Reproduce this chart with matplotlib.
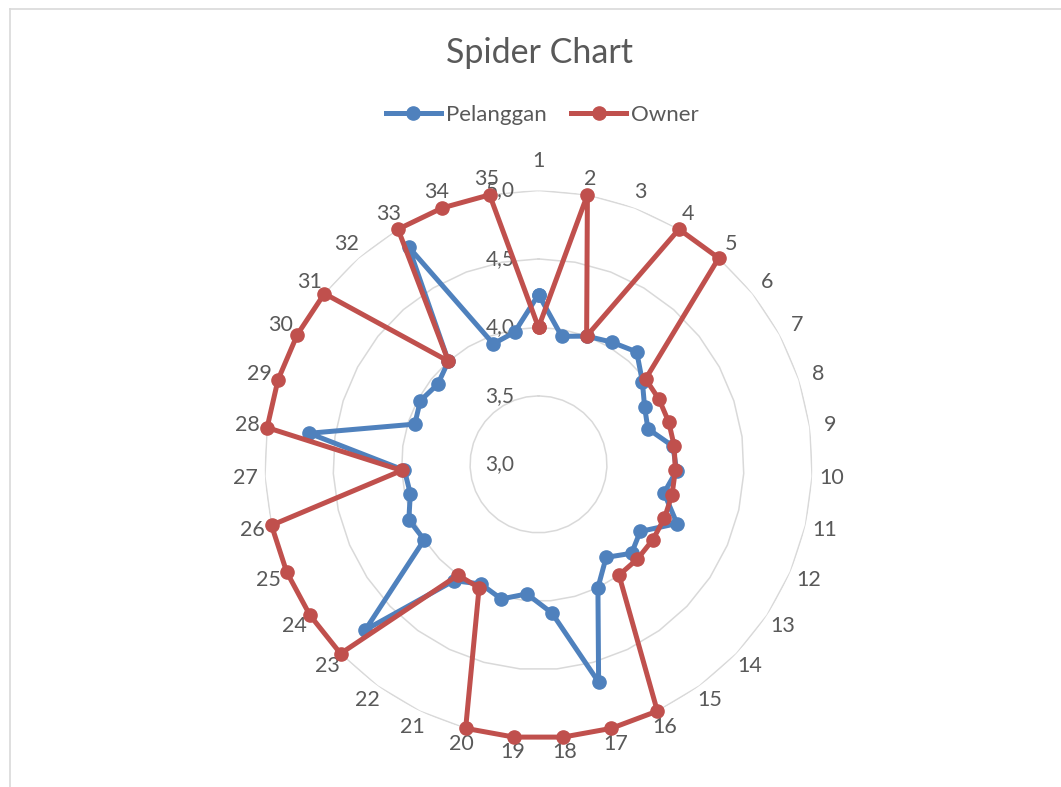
# Spider (radar) chart comparing customer and owner scores over 35 items
import numpy as np
import matplotlib.pyplot as plt
from matplotlib.lines import Line2D

# --- Data ---
categories = [str(i) for i in range(1, 36)]

pelanggan = [4.24, 3.95, 4.00, 4.04, 4.09, 3.97, 3.88, 3.84, 3.99, 4.01,
             3.94, 4.10, 3.89, 3.94, 3.84, 4.00, 4.65, 4.09, 3.95, 4.02,
             3.97, 4.05, 4.75, 4.00, 4.03, 3.96, 3.98, 4.69, 3.95, 3.98,
             3.94, 4.00, 4.85, 3.94, 3.98]

owner = [4, 5, 4, 5, 5, 4, 4, 4, 4, 4,
         4, 4, 4, 4, 4, 5, 5, 5, 5, 5,
         4, 4, 5, 5, 5, 5, 4, 5, 5, 5,
         5, 4, 5, 5, 5]

r_ticks = [3.0, 3.5, 4.0, 4.5, 5.0]
r_tick_labels = ["3,0", "3,5", "4,0", "4,5", "5,0"]

series_names = ["Pelanggan", "Owner"]
series_colors = ["#4F81BD", "#C0504D"]

TEXT_COLOR = "#595959"
GRID_COLOR = "#D9D9D9"
FONT = "Lato"
PX_PER_UNIT = 137.0  # pixels per value unit on the radial axis


def closed(values):
    # repeat the first point so the polygon closes
    return list(values) + [values[0]]


def draw_chart():
    fig = plt.figure(figsize=(10.61, 7.87), dpi=100)

    # light frame round the chart area (left and top edges are visible)
    fig.add_artist(Line2D([9.5 / 1061, 9.5 / 1061], [0, 1 - 8.5 / 787],
                          transform=fig.transFigure, color=GRID_COLOR, lw=1.2))
    fig.add_artist(Line2D([9.5 / 1061, 1], [1 - 8.5 / 787, 1 - 8.5 / 787],
                          transform=fig.transFigure, color=GRID_COLOR, lw=1.2))

    ax = fig.add_axes([0.2493, 0.062, 0.5165, 0.696], projection="polar")
    ax.set_theta_zero_location("N")
    ax.set_theta_direction(-1)
    ax.set_ylim(3, 5)

    n = len(categories)
    angles = np.linspace(0, 2 * np.pi, n, endpoint=False)
    angles_closed = closed(angles)

    # hide the default round grid, draw Excel-like polygon gridlines instead
    ax.grid(False)
    ax.spines["polar"].set_visible(False)
    ax.set_xticks([])
    ax.set_yticks([])
    for level in r_ticks[1:]:
        ax.plot(angles_closed, [level] * (n + 1), color=GRID_COLOR, lw=1.1, zorder=1)

    # radial value labels, left of the vertical axis
    for level, label in zip(r_ticks, r_tick_labels):
        ax.annotate(label, xy=(0, level), xytext=(-24, 0), textcoords="offset pixels",
                    ha="right", va="center", fontsize=15, color=TEXT_COLOR,
                    family=FONT, annotation_clip=False)

    # category labels round the outside
    for ang, cat in zip(angles, categories):
        r_px = 289 + 5 * abs(np.sin(ang))
        if cat == "1":
            r_px = 303  # Excel pushes the first label up above the value axis
        ax.text(ang, 3 + r_px / PX_PER_UNIT, cat, ha="center", va="center",
                fontsize=15.5, color=TEXT_COLOR, family=FONT, clip_on=False)

    # the two series
    handles = []
    for values, name, color in zip([pelanggan, owner], series_names, series_colors):
        line, = ax.plot(angles_closed, closed(values), color=color, lw=3.6,
                        marker="o", markersize=9.5, label=name, zorder=3,
                        clip_on=False)
        handles.append(line)

    fig.text(539 / 1061, 1 - 53 / 787, "Spider Chart", ha="center", va="center",
             fontsize=24.5, color=TEXT_COLOR, family=FONT)

    leg = fig.legend(handles=handles, loc="center", ncol=2,
                     bbox_to_anchor=(542 / 1061, 1 - 115 / 787), frameon=False,
                     handlelength=2.5, handletextpad=0.2, columnspacing=1.1,
                     prop={"family": FONT, "size": 16})
    for text in leg.get_texts():
        text.set_color(TEXT_COLOR)

    fig.savefig("out.png", dpi=100, facecolor="white")


if __name__ == "__main__":
    draw_chart()
